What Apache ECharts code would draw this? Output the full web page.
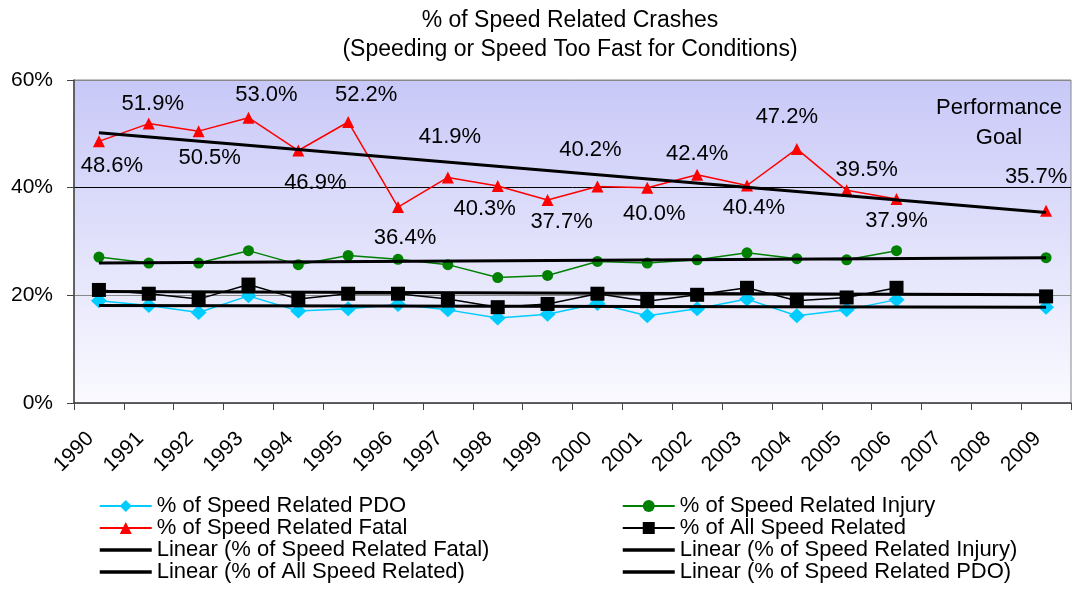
<html>
<head>
    <meta http-equiv="Content-Type" content="text/html; charset=utf-8" />
</head>
<script type="text/javascript" src="https://cdn.jsdelivr.net/npm/echarts@6/dist/echarts.min.js"></script>
<body style="margin:0">
<div id="main" style="width: 1073px;height:589px;"></div>
</body>
<script type="text/javascript">
    // categories and values
    var years = ['1990','1991','1992','1993','1994','1995','1996','1997','1998','1999',
                 '2000','2001','2002','2003','2004','2005','2006','2007','2008','2009'];
    var pdo      = [19.0, 18.1, 16.8, 19.9, 17.1, 17.5, 18.3, 17.3, 15.8, 16.5, 18.5, 16.2, 17.5, 19.3, 16.2, 17.3, 19.2, null, null, 17.8];
    var injury   = [27.1, 26.0, 26.0, 28.3, 25.7, 27.4, 26.7, 25.7, 23.3, 23.7, 26.3, 26.0, 26.6, 27.9, 26.8, 26.6, 28.3, null, null, 27.0];
    var fatal    = [48.6, 51.9, 50.5, 53.0, 46.9, 52.2, 36.4, 41.9, 40.3, 37.7, 40.2, 40.0, 42.4, 40.4, 47.2, 39.5, 37.9, null, null, 35.7];
    var allSpeed = [21.0, 20.3, 19.3, 22.0, 19.3, 20.3, 20.3, 19.3, 17.8, 18.4, 20.3, 18.9, 20.1, 21.4, 19.0, 19.6, 21.4, null, null, 19.8];
    // trend line ends (first year, last year)
    var fatalTrend  = [50.2, 35.4];
    var injuryTrend = [26.0, 27.0];
    var allTrend    = [20.7, 20.1];
    var pdoTrend    = [18.1, 17.8];
    var yTicks = [0, 20, 40, 60];

    // where each fatal label sits relative to its point
    var labelShift = [[13,25],[4,-20],[11,27],[18,-23],[17,32],[18,-27],[7,31],[2,-41],[-13,23],[14,22],
                      [-7,-37],[7,26],[0,-21],[7,22],[-10,-32],[20,-20],[0,22],null,null,[-10,-34]];

    var FONT = 'Liberation Sans, Arial, sans-serif';

    function trendData(ends) {
        var d = years.map(function () { return null; });
        d[0] = ends[0];
        d[years.length - 1] = ends[1];
        return d;
    }

    var fatalData = fatal.map(function (v, i) {
        if (v == null) return null;
        return { value: v, label: { offset: labelShift[i] } };
    });

    function trendSeries(name, ends) {
        return {
            name: name, type: 'line', data: trendData(ends), connectNulls: true,
            symbol: 'none', lineStyle: { color: '#000', width: 3 }, itemStyle: { color: '#000' }, z: 5
        };
    }

    // legend entry for a trend line: thick line only, no marker
    function lineOnly(name) {
        return { name: name, itemStyle: { opacity: 0 }, lineStyle: { width: 3.5, color: '#000' } };
    }

    var legendText = { fontFamily: FONT, fontSize: 22, color: '#000' };

    var myChart = echarts.init(document.getElementById('main'));
    var option = {
        animation: false,
        title: {
            text: '% of Speed Related Crashes\n(Speeding or Speed Too Fast for Conditions)',
            left: 565, top: 1, textAlign: 'center',
            textStyle: { fontFamily: FONT, fontSize: 23, fontWeight: 'normal', color: '#000', lineHeight: 29 }
        },
        grid: {
            left: 74, right: 2, top: 80, bottom: 186, show: true, borderColor: '#888', borderWidth: 1,
            backgroundColor: new echarts.graphic.LinearGradient(0, 0, 0, 1, [
                { offset: 0, color: '#c8c8f8' }, { offset: 1, color: '#fafaff' }
            ])
        },
        legend: [{
            left: 93, top: 490, height: 100, orient: 'vertical', itemWidth: 52, itemHeight: 15, itemGap: 0,
            selectedMode: false, textStyle: legendText,
            data: ['% of Speed Related PDO', '% of Speed Related Fatal',
                   lineOnly('Linear (% of Speed Related Fatal)'), lineOnly('Linear (% of All Speed Related)')]
        }, {
            left: 616, top: 490, height: 100, orient: 'vertical', itemWidth: 52, itemHeight: 15, itemGap: 0,
            selectedMode: false, textStyle: legendText,
            data: ['% of Speed Related Injury', '% of All Speed Related',
                   lineOnly('Linear (% of Speed Related Injury)'), lineOnly('Linear (% of Speed Related PDO)')]
        }],
        xAxis: {
            type: 'category', data: years, boundaryGap: true,
            axisLine: { lineStyle: { color: '#444', width: 1.5 } },
            axisTick: { show: true, interval: 0, length: 7, lineStyle: { color: '#444' } },
            axisLabel: { interval: 0, rotate: 45, margin: 24, padding: [0, 12, 0, 0],
                         fontFamily: FONT, fontSize: 21, color: '#000' }
        },
        yAxis: {
            type: 'value', min: yTicks[0], max: yTicks[yTicks.length - 1], interval: 20,
            axisLine: { show: true, lineStyle: { color: '#444', width: 1.5 } },
            axisTick: { show: true, length: 7, lineStyle: { color: '#444' } },
            axisLabel: { formatter: '{value}%', margin: 21, fontFamily: FONT, fontSize: 21, color: '#000' },
            splitLine: { show: true, lineStyle: { color: ['#888', '#888', '#000', '#888'], width: 1 } }
        },
        graphic: [{
            type: 'text', x: 999, y: 93,
            style: { text: 'Performance\nGoal', align: 'center', verticalAlign: 'top',
                     font: '22px ' + FONT, fill: '#000', lineHeight: 30 }
        }],
        series: [{
            name: '% of Speed Related PDO', type: 'line', data: pdo,
            symbol: 'diamond', symbolSize: [16, 15],
            lineStyle: { color: '#00ccff', width: 1.5 }, itemStyle: { color: '#00ccff' }
        }, {
            name: '% of Speed Related Injury', type: 'line', data: injury,
            symbol: 'circle', symbolSize: 11,
            lineStyle: { color: '#008000', width: 1.5 }, itemStyle: { color: '#008000' }
        }, {
            name: '% of Speed Related Fatal', type: 'line', data: fatalData,
            symbol: 'triangle', symbolSize: 12,
            lineStyle: { color: '#ff0000', width: 1.5 }, itemStyle: { color: '#ff0000' },
            label: { show: true, position: 'inside', align: 'center', verticalAlign: 'middle',
                     formatter: function (p) { return p.value.toFixed(1) + '%'; },
                     fontFamily: FONT, fontSize: 22, color: '#000' }
        }, {
            name: '% of All Speed Related', type: 'line', data: allSpeed,
            symbol: 'rect', symbolSize: 14,
            lineStyle: { color: '#000', width: 1.5 }, itemStyle: { color: '#000' }
        },
            trendSeries('Linear (% of Speed Related Fatal)', fatalTrend),
            trendSeries('Linear (% of Speed Related Injury)', injuryTrend),
            trendSeries('Linear (% of All Speed Related)', allTrend),
            trendSeries('Linear (% of Speed Related PDO)', pdoTrend)
        ]
    };
    myChart.setOption(option);
</script>
</html>
